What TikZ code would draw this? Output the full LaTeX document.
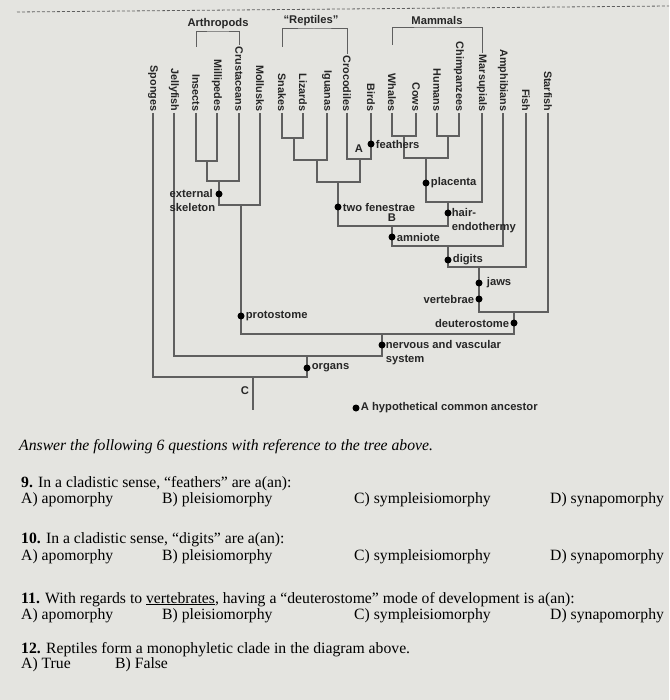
\documentclass[tikz,border=0pt]{standalone}
\usepackage{fontspec}
\setmainfont{Liberation Serif}
\setsansfont{Liberation Sans}
\usetikzlibrary{positioning}
\definecolor{paper}{RGB}{228,228,224}
\definecolor{branchgray}{RGB}{95,95,95}
\definecolor{inkgray}{RGB}{38,38,38}

\begin{document}
\begin{tikzpicture}[%
            x=1pt, y=-1pt,
            branch/.style={draw=branchgray, line width=1.2pt},
            taxon/.style={rotate=-90, anchor=east, inner sep=1.5pt, text=inkgray, font=\sffamily\bfseries\fontsize{10.8}{12}\selectfont},
            trait/.style={inner sep=1pt, text=inkgray, align=left, font=\sffamily\bfseries\fontsize{11.2}{13.5}\selectfont},
            dot/.style={circle, fill=black, inner sep=0pt, minimum size=7pt},
            question/.style={anchor=base west, inner sep=0pt, text=black, font=\fontsize{15.7}{18}\selectfont}
        ]
        \useasboundingbox (0,0) rectangle (669,700);
        \fill[paper] (0,0) rectangle (669,700);

        % Dashed rule at the top
        \coordinate (dashL) at (17,12);
        \coordinate (dashR) at (669,6);
        \draw[branchgray, line width=0.8pt, dash pattern=on 3pt off 2pt] (dashL) -- (dashR);

        % Taxa
        \node[taxon] (sponges) at (153,113) {Sponges};
        \node[taxon] (jellyfish) at (174,113) {Jellyfish};
        \node[taxon] (insects) at (196,113) {Insects};
        \node[taxon] (millipedes) at (217,113) {Millipedes};
        \node[taxon] (crustaceans) at (239,113) {Crustaceans};
        \node[taxon] (mollusks) at (260,113) {Mollusks};
        \node[taxon] (snakes) at (282,113) {Snakes};
        \node[taxon] (lizards) at (303,113) {Lizards};
        \node[taxon] (iguanas) at (327,113) {Iguanas};
        \node[taxon] (crocodiles) at (347,113) {Crocodiles};
        \node[taxon] (birds) at (371,113) {Birds};
        \node[taxon] (whales) at (392,113) {Whales};
        \node[taxon] (cows) at (416,113) {Cows};
        \node[taxon] (humans) at (437,113) {Humans};
        \node[taxon] (chimps) at (459,113) {Chimpanzees};
        \node[taxon] (marsupials) at (482,113) {Marsupials};
        \node[taxon] (amphibians) at (503,113) {Amphibians};
        \node[taxon] (fish) at (526,113) {Fish};
        \node[taxon] (starfish) at (548,113) {Starfish};

        % Group brackets
        \coordinate (arthL) at (196,47);
        \coordinate (arthTop) at (218,32);
        \coordinate (reptL) at (282,47);
        \coordinate (reptTop) at (314,29);
        \coordinate (mammL) at (392,45);
        \coordinate (mammTop) at (437,28);
        \draw[branch, line width=1pt] (arthL) |- (arthTop) -| (crustaceans);
        \draw[branch, line width=1pt] (reptL) |- (reptTop) -| (crocodiles);
        \draw[branch, line width=1pt] (mammL) |- (mammTop) -| (marsupials);
        \node[trait, above=2pt of arthTop] (arthropods) {Arthropods};
        \node[trait, above=2pt of reptTop, xshift=-3pt] (reptiles) {“Reptiles”};
        \node[trait, above=2pt of mammTop] (mammals) {Mammals};

        % Branch points
        \coordinate (jIM) at (207,161);
        \coordinate (jArth) at (219,181);
        \coordinate (jArM) at (241,205);
        \coordinate (jSL) at (294,138);
        \coordinate (jSLI) at (317,160);
        \coordinate (jCB) at (360,159);
        \coordinate (jRep) at (338,182);
        \coordinate (jWC) at (404,136);
        \coordinate (jHC) at (448,136);
        \coordinate (jPlac) at (426,158);
        \coordinate (jMam) at (448,202);
        \coordinate (jAmn) at (392,226);
        \coordinate (jTet) at (448,246);
        \coordinate (jGna) at (479,267);
        \coordinate (jDeu) at (514,312);
        \coordinate (jBil) at (382,334);
        \coordinate (jEum) at (307,356);
        \coordinate (jRoot) at (253,377);
        \coordinate (rootEnd) at (253,410);

        % Protostomes
        \draw[branch] (insects) |- (jIM) -| (millipedes);
        \draw[branch] (jIM) |- (jArth) -| (crustaceans);
        \draw[branch] (jArth) |- (jArM) -| (mollusks);

        % Reptiles and mammals
        \draw[branch] (snakes) |- (jSL) -| (lizards);
        \draw[branch] (jSL) |- (jSLI) -| (iguanas);
        \draw[branch] (crocodiles) |- (jCB) -| (birds);
        \draw[branch] (jSLI) |- (jRep) -| (jCB);
        \draw[branch] (whales) |- (jWC) -| (cows);
        \draw[branch] (humans) |- (jHC) -| (chimps);
        \draw[branch] (jWC) |- (jPlac) -| (jHC);
        \draw[branch] (jPlac) |- (jMam) -| (marsupials);
        \draw[branch] (jRep) |- (jAmn) -| (jMam);
        \draw[branch] (jAmn) |- (jTet) -| (amphibians);
        \draw[branch] (jTet) |- (jGna) -| (fish);
        \draw[branch] (jGna) |- (jDeu) -| (starfish);

        % Down to the root
        \draw[branch] (jArM) |- (jBil) -| (jDeu);
        \draw[branch] (jellyfish) |- (jEum) -| (jBil);
        \draw[branch] (sponges) |- (jRoot) -| (jEum);
        \draw[branch] (jRoot) -- (rootEnd);

        % Ancestors and traits
        \node[dot, label={[trait]right:feathers}] (feathers) at (371,144) {};
        \node[dot] (extSkel) at (219,194) {};
        \node[trait, anchor=north east] (extText) at ([yshift=3pt]extSkel.north west) {external\\skeleton};
        \node[dot, label={[trait]right:two fenestrae}] (fenestrae) at (338,207) {};
        \node[dot, label={[trait]right:placenta}] (placenta) at (426,183) {};
        \node[dot] (hair) at (448,213) {};
        \node[trait, anchor=north west] (hairText) at ([yshift=3pt]hair.north east) {hair-\\endothermy};
        \node[dot, label={[trait]right:amniote}] (amniote) at (392,237) {};
        \node[dot, label={[trait]right:digits}] (digits) at (448,260) {};
        \node[dot, label={[trait, xshift=3pt]right:jaws}] (jaws) at (479,283) {};
        \node[dot, label={[trait]left:vertebrae}] (vertebrae) at (479,299) {};
        \node[dot, label={[trait]left:deuterostome}] (deuterostome) at (514,323) {};
        \node[dot, label={[trait]right:protostome}] (protostome) at (241,316) {};
        \node[dot] (nervous) at (382,345) {};
        \node[trait, anchor=north west] (nervousText) at ([yshift=3pt]nervous.north east) {nervous and vascular\\system};
        \node[dot, label={[trait]right:organs}] (organs) at (307,368) {};
        \node[trait] (labelA) at (359,149) {A};
        \node[trait] (labelB) at (392,218) {B};
        \node[trait] (labelC) at (245,391) {C};

        % Legend
        \node[dot, label={[trait]right:A hypothetical common ancestor}] (legend) at (356,408) {};

        % Questions
        \node[question, font=\itshape\fontsize{15.7}{18}\selectfont] (intro) at (19,450) {Answer the following 6 questions with reference to the tree above.};
        \node[question] (q9) at (21,487) {\textbf{9.} In a cladistic sense, “feathers” are a(an):};
        \node[question] (q9a) at (21,503) {A) apomorphy};
        \node[question] (q9b) at (162,503) {B) pleisiomorphy};
        \node[question] (q9c) at (354,503) {C) sympleisiomorphy};
        \node[question] (q9d) at (550,503) {D) synapomorphy};
        \node[question] (q10) at (21,543) {\textbf{10.} In a cladistic sense, “digits” are a(an):};
        \node[question] (q10a) at (21,560) {A) apomorphy};
        \node[question] (q10b) at (162,560) {B) pleisiomorphy};
        \node[question] (q10c) at (354,560) {C) sympleisiomorphy};
        \node[question] (q10d) at (550,560) {D) synapomorphy};
        \node[question] (q11) at (21,603) {\textbf{11.} With regards to \underline{vertebrates}, having a “deuterostome” mode of development is a(an):};
        \node[question] (q11a) at (21,619) {A) apomorphy};
        \node[question] (q11b) at (162,619) {B) pleisiomorphy};
        \node[question] (q11c) at (354,619) {C) sympleisiomorphy};
        \node[question] (q11d) at (550,619) {D) synapomorphy};
        \node[question] (q12) at (21,653) {\textbf{12.} Reptiles form a monophyletic clade in the diagram above.};
        \node[question] (q12a) at (21,668) {A) True};
        \node[question] (q12b) at (115,668) {B) False};

        \end{tikzpicture}
\end{document}
